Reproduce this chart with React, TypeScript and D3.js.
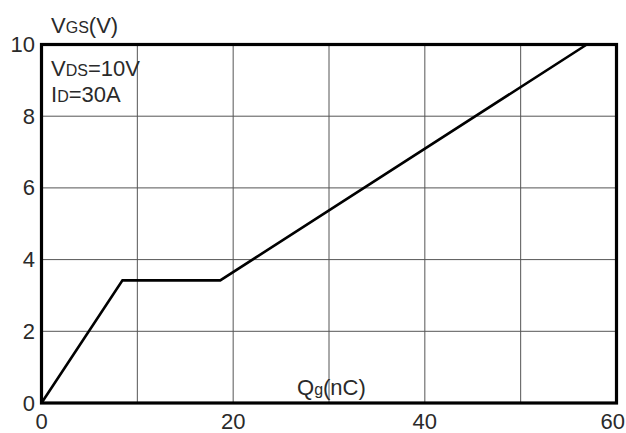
import React from "react";
import * as d3 from "d3";

const qg = [0, 8.45, 18.65, 56.9];
const vgs = [0, 3.42, 3.42, 10];
const xTicks = [0, 20, 40, 60];
const yTicks = [0, 2, 4, 6, 8, 10];
const xGrid = [10, 20, 30, 40, 50];
const yGrid = [2, 4, 6, 8];

export default function App() {
  const W = 626, H = 433;
  const L = 41.5, R = 616.5, T = 44.5, B = 403;
  const x = d3.scaleLinear().domain([0, 60]).range([L, R]);
  const y = d3.scaleLinear().domain([0, 10]).range([B, T]);
  const line = d3.line<number>().x((d, i) => x(qg[i])).y((d) => y(d));
  const font = "Liberation Sans, Arial, sans-serif";
  const tc = "#2a2a2a";
  const fs = 22;
  const sfs = 16;
  return (
    <svg width={W} height={H} style={{ position: "absolute", left: 0, top: 0, background: "#fff" }} fontFamily={font}>
      <rect x={0} y={0} width={W} height={H} fill="#fff" />
      {xGrid.map((v) => (
        <line key={"gx" + v} x1={x(v)} x2={x(v)} y1={T} y2={B} stroke="#555" strokeWidth={1} />
      ))}
      {yGrid.map((v) => (
        <line key={"gy" + v} x1={L} x2={R} y1={y(v)} y2={y(v)} stroke="#555" strokeWidth={1} />
      ))}
      <path d={line(vgs) || ""} fill="none" stroke="#000" strokeWidth={2.6} strokeLinejoin="miter" />
      <rect x={L} y={T} width={R - L} height={B - T} fill="none" stroke="#000" strokeWidth={3.2} />
      {yTicks.map((v) => (
        <text key={"yt" + v} x={35} y={y(v) + 7.5} textAnchor="end" fontSize={fs} fill={tc}>{v}</text>
      ))}
      {xTicks.map((v, i) => {
        const last = i === xTicks.length - 1;
        return (
          <text key={"xt" + v} x={last ? W - 1 : x(v)} y={429} textAnchor={last ? "end" : "middle"} fontSize={fs} fill={tc}>{v}</text>
        );
      })}
      <text x={51} y={33} fontSize={fs} fill={tc}>
        V<tspan fontSize={sfs}>GS</tspan>(V)
      </text>
      <text x={51} y={76} fontSize={fs} fill={tc}>
        V<tspan fontSize={sfs}>DS</tspan>=10V
      </text>
      <text x={51} y={102} fontSize={fs} fill={tc}>
        I<tspan fontSize={sfs}>D</tspan>=30A
      </text>
      <text x={297} y={395} fontSize={fs} fill={tc}>
        Q<tspan fontSize={sfs}>g</tspan>(nC)
      </text>
    </svg>
  );
}
